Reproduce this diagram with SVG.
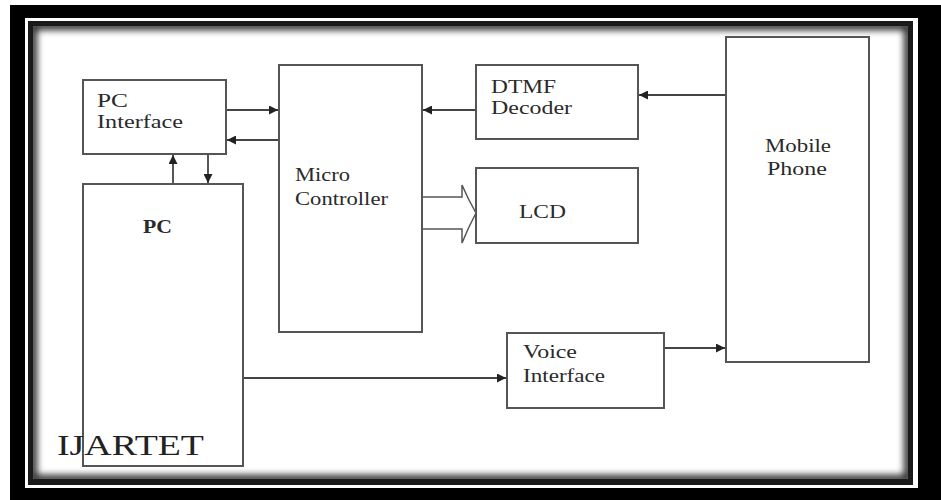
<svg xmlns="http://www.w3.org/2000/svg" width="941" height="500" viewBox="0 0 941 500">
<style>
.box{fill:#fff;stroke:#555;stroke-width:2}
.ln{fill:none;stroke:#444;stroke-width:1.8}
.t{font-family:"Liberation Serif","Times New Roman",serif;font-size:18px;fill:#2a2a2a}
.b{font-weight:bold}
</style>
<defs>
<marker id="ah" viewBox="0 0 10 10" refX="10" refY="5" markerWidth="5" markerHeight="5" orient="auto" markerUnits="strokeWidth">
<path d="M0,0 L10,5 L0,10 Z" fill="#222"/>
</marker>
<clipPath id="inner"><rect x="33" y="26" width="875" height="453"/></clipPath>
<filter id="blur" x="-5%" y="-5%" width="110%" height="110%"><feGaussianBlur stdDeviation="3.5"/></filter>
</defs>
<rect x="0" y="0" width="941" height="500" fill="#fff"/>
<g id="frame">
<rect x="10" y="5" width="931" height="495" fill="#000"/>
<rect x="25" y="18" width="893" height="470" fill="#fff"/>
<rect x="28" y="21" width="885" height="464" fill="#1a1a1a"/>
<rect x="33" y="26" width="875" height="453" fill="#fff"/>
<rect x="33" y="26" width="875" height="453" fill="none" stroke="#000" stroke-width="8" opacity="0.85" filter="url(#blur)" clip-path="url(#inner)"/>
</g>
<g id="pc-interface">
<rect class="box" x="83" y="80" width="143" height="74"/>
<text class="t" x="97" y="107" textLength="31" lengthAdjust="spacingAndGlyphs">PC</text>
<text class="t" x="97" y="128" textLength="86" lengthAdjust="spacingAndGlyphs">Interface</text>
</g>
<g id="pc">
<rect class="box" x="83" y="184" width="160" height="282"/>
<text class="t b" x="143" y="233" textLength="29" lengthAdjust="spacingAndGlyphs">PC</text>
</g>
<g id="micro-controller">
<rect class="box" x="279" y="65" width="143" height="267"/>
<text class="t" x="295" y="181" textLength="55" lengthAdjust="spacingAndGlyphs">Micro</text>
<text class="t" x="295" y="205" textLength="93" lengthAdjust="spacingAndGlyphs">Controller</text>
</g>
<g id="dtmf-decoder">
<rect class="box" x="476" y="65" width="162" height="74"/>
<text class="t" x="491" y="93" textLength="65" lengthAdjust="spacingAndGlyphs">DTMF</text>
<text class="t" x="491" y="114" textLength="81" lengthAdjust="spacingAndGlyphs">Decoder</text>
</g>
<g id="lcd">
<rect class="box" x="476" y="168" width="162" height="75"/>
<text class="t" x="519" y="218" textLength="47" lengthAdjust="spacingAndGlyphs">LCD</text>
</g>
<g id="mobile-phone">
<rect class="box" x="726" y="37" width="143" height="325"/>
<text class="t" x="765" y="152" textLength="66" lengthAdjust="spacingAndGlyphs">Mobile</text>
<text class="t" x="767" y="175" textLength="60" lengthAdjust="spacingAndGlyphs">Phone</text>
</g>
<g id="voice-interface">
<rect class="box" x="507" y="333" width="157" height="75"/>
<text class="t" x="523" y="358" textLength="54" lengthAdjust="spacingAndGlyphs">Voice</text>
<text class="t" x="523" y="382" textLength="82" lengthAdjust="spacingAndGlyphs">Interface</text>
</g>
<g id="connectors">
<line class="ln" x1="227" y1="110" x2="278" y2="110" marker-end="url(#ah)"/>
<line class="ln" x1="278" y1="140" x2="227" y2="140" marker-end="url(#ah)"/>
<line class="ln" x1="173" y1="183" x2="173" y2="155" marker-end="url(#ah)"/>
<line class="ln" x1="208" y1="155" x2="208" y2="183" marker-end="url(#ah)"/>
<line class="ln" x1="475" y1="110" x2="423" y2="110" marker-end="url(#ah)"/>
<line class="ln" x1="725" y1="95" x2="639" y2="95" marker-end="url(#ah)"/>
<line class="ln" x1="244" y1="378" x2="506" y2="378" marker-end="url(#ah)"/>
<line class="ln" x1="665" y1="348" x2="725" y2="348" marker-end="url(#ah)"/>
<path d="M423,197 L462,197 L462,185 Q468,199 476,213 Q468,228 462,243 L462,229 L423,229" fill="#fff" stroke="#555" stroke-width="1.5"/>
</g>
<text x="57" y="455" font-family="Liberation Serif,'Times New Roman',serif" font-size="29" fill="#222" textLength="147" lengthAdjust="spacingAndGlyphs">IJARTET</text>
</svg>
